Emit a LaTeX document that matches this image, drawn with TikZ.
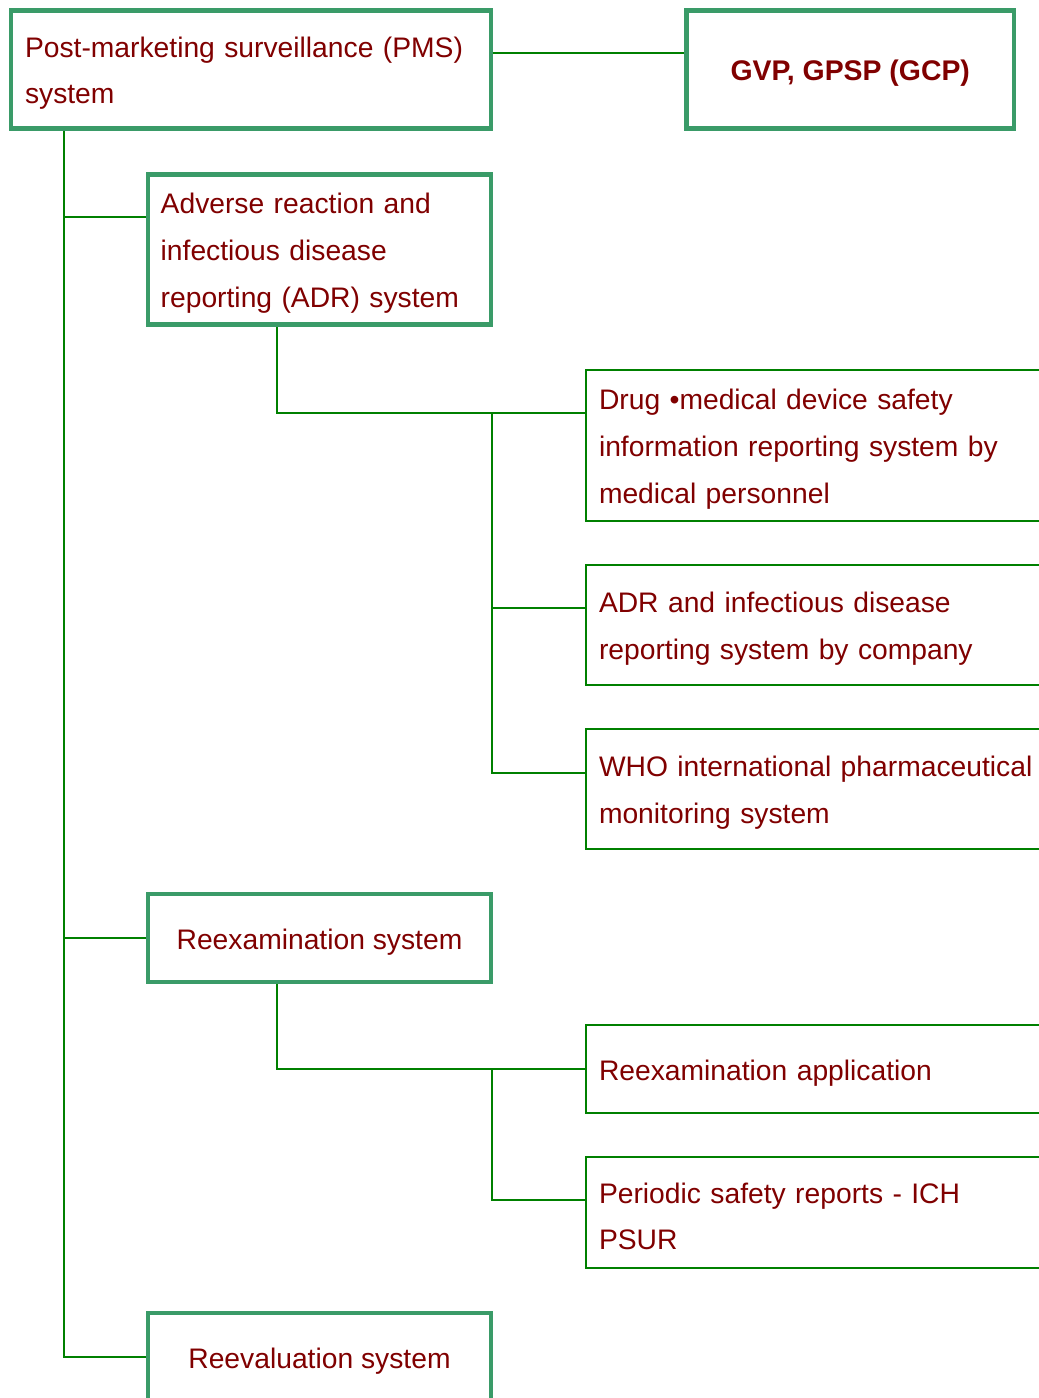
\documentclass[tikz,border=0pt]{standalone}
\usepackage{fontspec}
\setmainfont{Liberation Sans}
\usetikzlibrary{backgrounds}
\definecolor{thickgreen}{RGB}{58,155,104}
\definecolor{thingreen}{RGB}{0,128,0}
\definecolor{txtred}{RGB}{128,0,0}
\newcommand\myTS{\rule{0pt}{28pt}}
\begin{document}
\begin{tikzpicture}[x=1pt,y=-1pt,
  every node/.style={font=\fontsize{28.25}{46.7}\selectfont, text=txtred},
  mainbox/.style={draw=thickgreen, line width=4.2pt, fill=white, inner sep=0pt, outer sep=0pt, align=left},
  subbox/.style={draw=thingreen, line width=2pt, fill=white, inner sep=0pt, outer sep=0pt, align=left,
                 minimum width=514.5pt, text width=487.5pt},
  conn/.style={draw=thingreen, line width=2pt}]
\useasboundingbox (0,0) rectangle (1039,1398);
\clip (0,0) rectangle (1039,1398);

\node[mainbox, minimum width=480pt, minimum height=118pt, text width=452pt] (PMS) at (251,69.5)
  {\myTS Post-marketing surveillance (PMS)\\system};
\node[mainbox, minimum width=327.5pt, minimum height=118pt, align=center,
      font=\fontsize{28.4}{46.7}\selectfont\bfseries] (GVP) at (850.25,69.5) {\myTS GVP, GPSP (GCP)};
\node[mainbox, minimum width=343pt, minimum height=150pt, text width=317.6pt] (ADR) at (319.5,249.5)
  {\myTS Adverse reaction and\\infectious disease\\reporting (ADR) system};
\node[subbox, minimum height=151pt] (DRUG) at (842.75,445.5)
  {\myTS Drug •medical device safety\\information reporting system by\\medical personnel};
\node[subbox, minimum height=120pt] (ADRC) at (842.75,625)
  {\myTS ADR and infectious disease\\reporting system by company};
\node[subbox, minimum height=120pt] (WHO) at (842.75,789)
  {\myTS WHO international pharmaceutical\\monitoring system};
\node[mainbox, minimum width=343pt, minimum height=88pt, align=center] (RX) at (319.5,938)
  {\myTS Reexamination system};
\node[subbox, minimum height=88pt] (RA) at (842.75,1069)
  {\myTS Reexamination application};
\node[subbox, minimum height=111pt] (PSR) at (842.75,1212.5)
  {\myTS Periodic safety reports - ICH\\PSUR};
\node[mainbox, minimum width=343pt, minimum height=88pt, align=center] (REV) at (319.5,1357)
  {\myTS Reevaluation system};

\coordinate (T) at (64,0);
\coordinate (V1) at (492,0);
\coordinate (G1) at ([yshift=17pt]PMS.east);
\coordinate (A1) at ([yshift=-42pt]ADR.north west);
\coordinate (B1) at ([xshift=129pt]ADR.south west);
\coordinate (D1) at ([yshift=-43pt]DRUG.north west);
\coordinate (D2) at ([yshift=-43pt]ADRC.north west);
\coordinate (D3) at ([yshift=-44pt]WHO.north west);
\coordinate (B2) at ([xshift=129pt]RX.south west);
\coordinate (E2) at ([yshift=-43pt]PSR.north west);

\begin{pgfonlayer}{background}
\draw[conn] (G1) -- (G1 -| GVP.west);
\draw[conn] (PMS.south -| T) -- (T |- REV.west) -- (REV.west);
\draw[conn] (T |- A1) -- (A1);
\draw[conn] (T |- RX.west) -- (RX.west);
\draw[conn] (B1) |- (D1);
\draw[conn] (V1 |- D1) -- (V1 |- D3) -- (D3);
\draw[conn] (V1 |- D2) -- (D2);
\draw[conn] (B2) |- (RA.west);
\draw[conn] (V1 |- RA.west) -- (V1 |- E2) -- (E2);
\end{pgfonlayer}
\end{tikzpicture}
\end{document}
